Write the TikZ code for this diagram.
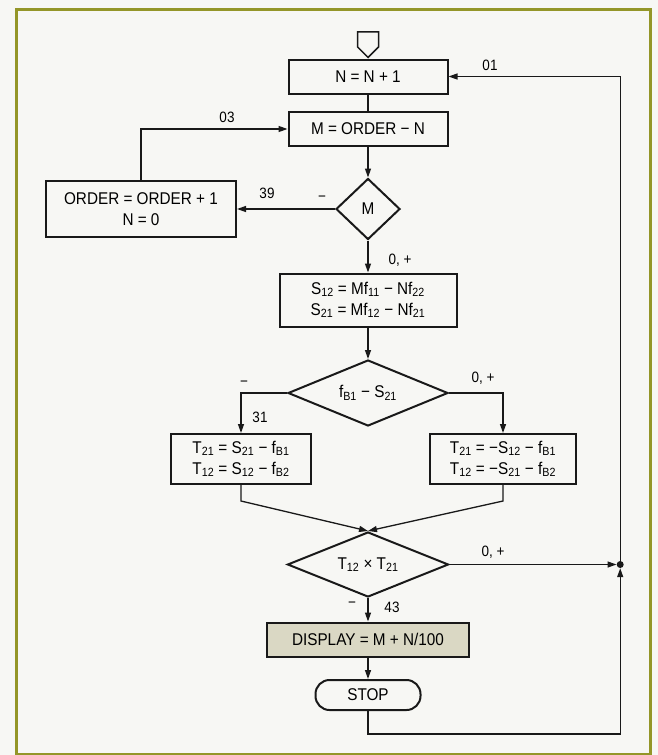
\documentclass[tikz,border=0pt]{standalone}
\usepackage{fontspec}
\setmainfont{Liberation Sans}[FakeStretch=0.9]
\usepackage{tikz}
\usetikzlibrary{arrows.meta, positioning, shapes.geometric, shapes.symbols, calc}

\definecolor{frameolive}{RGB}{148,150,40}
\definecolor{paper}{RGB}{247,247,244}
\definecolor{dispfill}{RGB}{218,216,196}
\definecolor{ink}{RGB}{25,25,25}

\newcommand{\lsub}[1]{\textsubscript{#1}}

\begin{document}
\begin{tikzpicture}[x=1pt, y=-1pt,
  box/.style={draw=ink, line width=2pt, minimum width=159pt, minimum height=34pt,
              align=center, inner sep=2pt, font=\fontsize{17}{21}\selectfont},
  dec/.style={diamond, draw=ink, line width=2pt, inner sep=1pt, font=\fontsize{17}{18}\selectfont},
  term/.style={draw=ink, line width=2pt, rounded corners=14pt, minimum width=105pt,
               minimum height=30pt, font=\fontsize{17}{18}\selectfont},
  entry/.style={signal, signal to=south, draw=ink, line width=1.5pt, minimum width=21pt,
                minimum height=15pt, inner sep=0pt},
  arr/.style={-{Triangle[length=9pt, width=6pt]}, line width=1.3pt, draw=ink},
  lin/.style={line width=1.3pt, draw=ink},
  lbl/.style={font=\fontsize{15}{17}\selectfont, inner sep=1pt},
  dot/.style={circle, fill=ink, inner sep=0pt, minimum size=7pt}
]
  \fill[paper] (0,0) rectangle (658,755);
  \useasboundingbox (0,0) rectangle (658,755);
  \draw[frameolive, line width=3pt] (16,9) rectangle (650,754);

  \node[box] (nbox) at (368,76.5) {N = N + 1};
  \node[entry, above=0pt of nbox] (start) {};
  \node[box, below=16.5pt of nbox] (mbox) {M = ORDER − N};
  \node[dec, minimum width=64pt, minimum height=61pt, below=30.5pt of mbox] (mdia) {M};
  \node[box, minimum width=190pt, minimum height=56pt, left=98pt of mdia] (obox) {ORDER = ORDER + 1\\N = 0};
  \node[box, minimum width=177pt, minimum height=53pt, below=32pt of mdia] (sbox)
    {S\lsub{12} = Mf\lsub{11} − Nf\lsub{22}\\S\lsub{21} = Mf\lsub{12} − Nf\lsub{21}};
  \node[dec, aspect=2.4, minimum width=160pt, minimum height=66pt, below=31.5pt of sbox] (fdia)
    {f\lsub{B1} − S\lsub{21}};
  \node[box, minimum width=140pt, minimum height=50pt, below=40pt of fdia.west, xshift=-46pt] (tl)
    {T\lsub{21} = S\lsub{21} − f\lsub{B1}\\T\lsub{12} = S\lsub{12} − f\lsub{B2}};
  \node[box, minimum width=146pt, minimum height=50pt, below=40pt of fdia.east, xshift=54pt] (tr)
    {T\lsub{21} = −S\lsub{12} − f\lsub{B1}\\T\lsub{12} = −S\lsub{21} − f\lsub{B2}};
  \node[dec, aspect=2.4, minimum width=161pt, minimum height=65pt, below=104pt of fdia] (tdia)
    {T\lsub{12} × T\lsub{21}};
  \node[box, fill=dispfill, minimum width=202pt, below=23.5pt of tdia] (disp) {DISPLAY = M + N/100};
  \node[term, below=21.5pt of disp] (stop) {STOP};
  \node[dot, right=167pt of tdia] (jn) {};

  \draw[lin] (nbox) -- (mbox);
  \draw[arr] (mbox) -- (mdia);
  \draw[arr] (mdia) -- (obox);
  \draw[arr] (obox.north) |- (mbox.west);
  \draw[arr] (mdia) -- (sbox);
  \draw[arr] (sbox) -- (fdia);
  \draw[arr] (fdia.west) -| (tl.north);
  \draw[arr] (fdia.east) -| (tr.north);
  \draw[arr] (tl.south) -- ++(0,16) -- (tdia.north);
  \draw[arr] (tr.south) -- ++(0,16) -- (tdia.north);
  \draw[arr] (tdia) -- (jn);
  \draw[arr] (tdia) -- (disp);
  \draw[arr] (disp) -- (stop);
  \draw[arr] (stop.south) -- ++(0,23) -| (jn.south);
  \draw[arr] (jn.north) |- (nbox.east);

  \node[lbl] (l01) at (490,65) {01};
  \node[lbl] (l03) at (227,117) {03};
  \node[lbl] (l39) at (267,193) {39};
  \node[lbl] (lmneg) at (322,199) {−};
  \node[lbl] (lmpos) at (400,260) {0, +};
  \node[lbl] (lfneg) at (244,384) {−};
  \node[lbl] (l31) at (260,417) {31};
  \node[lbl] (lfpos) at (483,378) {0, +};
  \node[lbl] (ltpos) at (493,552) {0, +};
  \node[lbl] (ltneg) at (352,605) {−};
  \node[lbl] (l43) at (392,607) {43};
\end{tikzpicture}
\end{document}
